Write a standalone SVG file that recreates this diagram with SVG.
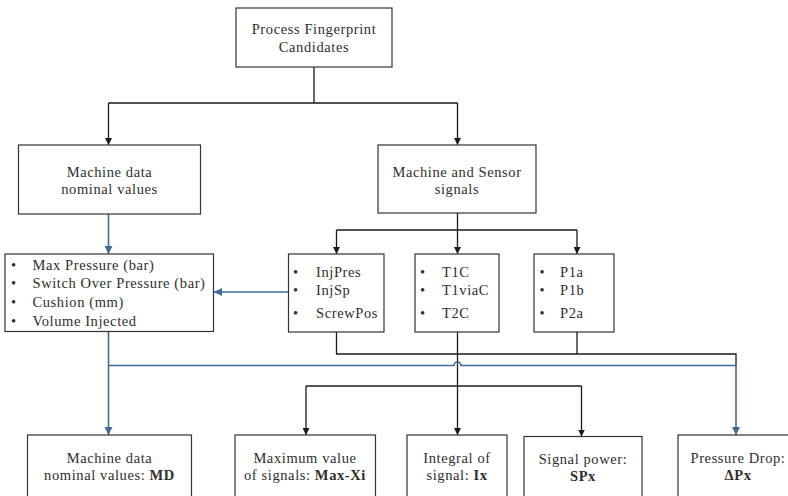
<svg xmlns="http://www.w3.org/2000/svg" width="788" height="496" viewBox="0 0 788 496">
  <defs>
    <marker id="arrowBlack" viewBox="0 0 10 10" refX="10" refY="5" markerWidth="7" markerHeight="7" markerUnits="userSpaceOnUse" orient="auto">
      <path d="M0,0 L10,5 L0,10 z" fill="#1a1a1a"/>
    </marker>
    <marker id="arrowBlue" viewBox="0 0 10 10" refX="10" refY="5" markerWidth="8" markerHeight="8" markerUnits="userSpaceOnUse" orient="auto">
      <path d="M0,0 L10,5 L0,10 z" fill="#3f6a9a"/>
    </marker>
  </defs>
  <style>
    rect.box { fill: #ffffff; stroke: #333333; stroke-width: 1.2; }
    text { font-family: "Liberation Serif", "Times New Roman", serif; font-size: 14.5px; letter-spacing: 0.6px; fill: #2e2e2e; }
    text.c { text-anchor: middle; }
    .b { font-weight: bold; }
    .blk { fill: none; stroke: #1a1a1a; stroke-width: 1.3; }
    .blu { fill: none; stroke: #3f6a9a; stroke-width: 1.6; }
  </style>
  <rect width="788" height="496" fill="#ffffff"/>

  <!-- connectors -->
  <g id="connectors">
    <path class="blk" d="M314,67 V103 M108.5,103 H457.5"/>
    <path class="blk" d="M108.5,103 V145" marker-end="url(#arrowBlack)"/>
    <path class="blk" d="M457.5,103 V145" marker-end="url(#arrowBlack)"/>
    <path class="blk" d="M457.5,213 V230 M336.5,230 H577"/>
    <path class="blk" d="M336.5,230 V254" marker-end="url(#arrowBlack)"/>
    <path class="blk" d="M457.5,230 V254" marker-end="url(#arrowBlack)"/>
    <path class="blk" d="M577,230 V254" marker-end="url(#arrowBlack)"/>
    <path class="blk" d="M336.5,332 V354 H736 V365.5 M577,332 V354"/>
    <path class="blk" d="M457.5,332 V435" marker-end="url(#arrowBlack)"/>
    <path class="blk" d="M306,386 H581.5"/>
    <path class="blk" d="M306,386 V435" marker-end="url(#arrowBlack)"/>
    <path class="blk" d="M581.5,386 V436.5" marker-end="url(#arrowBlack)"/>
    <path class="blu" d="M108.5,214 V254" marker-end="url(#arrowBlue)"/>
    <path class="blu" d="M288.5,292 H214" marker-end="url(#arrowBlue)"/>
    <path class="blu" d="M108.5,332 V435" marker-end="url(#arrowBlue)"/>
    <path class="blu" d="M108.5,365.5 H454 A3.5,3.5 0 0 1 461,365.5 H736 V435" marker-end="url(#arrowBlue)"/>
  </g>

  <g id="fingerprint">
    <rect class="box" x="236" y="8" width="156" height="59"/>
    <text class="c" x="314" y="34">Process Fingerprint</text>
    <text class="c" x="314" y="52">Candidates</text>
  </g>

  <g id="machine-data">
    <rect class="box" x="18.5" y="145" width="182" height="69"/>
    <text class="c" x="109.5" y="177">Machine data</text>
    <text class="c" x="109.5" y="194">nominal values</text>
  </g>

  <g id="machine-sensor">
    <rect class="box" x="378" y="145" width="158" height="68"/>
    <text class="c" x="457" y="177">Machine and Sensor</text>
    <text class="c" x="457" y="194">signals</text>
  </g>

  <g id="nominal-list">
    <rect class="box" x="5" y="254" width="208.5" height="77.5"/>
    <text x="11" y="270">•</text><text x="32.5" y="270">Max Pressure (bar)</text>
    <text x="11" y="288">•</text><text x="32.5" y="288">Switch Over Pressure (bar)</text>
    <text x="11" y="307">•</text><text x="32.5" y="307">Cushion (mm)</text>
    <text x="11" y="326">•</text><text x="32.5" y="326">Volume Injected</text>
  </g>

  <g id="machine-signals">
    <rect class="box" x="288.5" y="254" width="95.5" height="78"/>
    <text x="293" y="277">•</text><text x="316" y="277">InjPres</text>
    <text x="293" y="295">•</text><text x="316" y="295">InjSp</text>
    <text x="293" y="318">•</text><text x="316" y="318">ScrewPos</text>
  </g>

  <g id="temperature-signals">
    <rect class="box" x="415" y="254" width="84" height="78"/>
    <text x="420" y="277">•</text><text x="442" y="277">T1C</text>
    <text x="420" y="295">•</text><text x="442" y="295">T1viaC</text>
    <text x="420" y="318">•</text><text x="442" y="318">T2C</text>
  </g>

  <g id="pressure-signals">
    <rect class="box" x="534" y="254" width="80" height="78"/>
    <text x="539.5" y="277">•</text><text x="560" y="277">P1a</text>
    <text x="539.5" y="295">•</text><text x="560" y="295">P1b</text>
    <text x="539.5" y="318">•</text><text x="560" y="318">P2a</text>
  </g>

  <g id="feature-md">
    <rect class="box" x="27.5" y="435" width="164" height="70"/>
    <text class="c" x="109.5" y="463">Machine data</text>
    <text class="c" x="109.5" y="480">nominal values: <tspan class="b">MD</tspan></text>
  </g>

  <g id="feature-max">
    <rect class="box" x="235" y="435" width="140.5" height="70"/>
    <text class="c" x="305" y="463">Maximum value</text>
    <text class="c" x="305" y="480">of signals: <tspan class="b">Max-Xi</tspan></text>
  </g>

  <g id="feature-integral">
    <rect class="box" x="407" y="435" width="100" height="70"/>
    <text class="c" x="457" y="463">Integral of</text>
    <text class="c" x="457" y="480">signal: <tspan class="b">Ix</tspan></text>
  </g>

  <g id="feature-power">
    <rect class="box" x="524" y="436.5" width="118" height="70"/>
    <text class="c" x="583" y="464">Signal power:</text>
    <text class="c" x="583" y="481" font-weight="bold">SPx</text>
  </g>

  <g id="feature-drop">
    <rect class="box" x="678" y="435" width="120" height="70"/>
    <text class="c" x="738" y="463">Pressure Drop:</text>
    <text class="c" x="738" y="480" font-weight="bold">ΔPx</text>
  </g>
</svg>
